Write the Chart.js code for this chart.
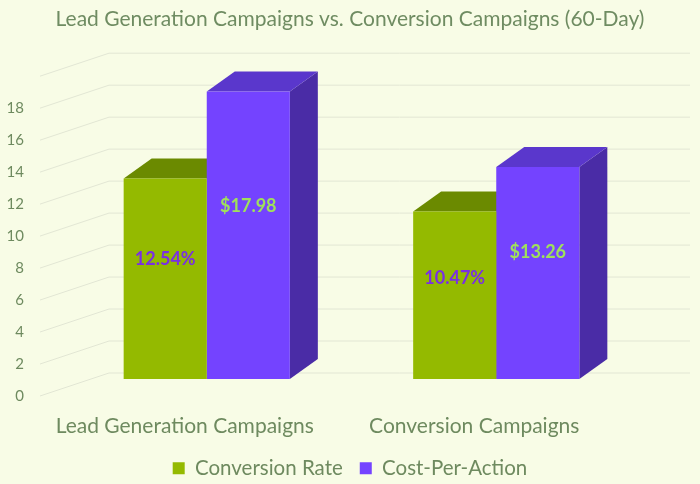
<!DOCTYPE html>
<html>
<head>
<meta charset="utf-8">
<script src="https://cdn.jsdelivr.net/npm/chart.js@4.4.0/dist/chart.umd.min.js"></script>
<style>
  body { margin: 0; background: #f8fce6; }
  #wrap { width: 700px; height: 484px; }
</style>
</head>
<body>
<div id="wrap"><canvas id="myChart"></canvas></div>
<script>
const categories = ["Lead Generation Campaigns", "Conversion Campaigns"];
const conversionRate = [12.54, 10.47];
const costPerAction = [17.98, 13.26];
const yTicks = [0, 2, 4, 6, 8, 10, 12, 14, 16, 18, 20];

const textColor = "#6e8a5f";
const gridColor = "#e2e6d4";
const fontName = "Lato";

// fake 3D: walls, bar tops and sides, value labels
const threeD = {
    id: "threeD",
    beforeDatasetsDraw(chart) {
        const ctx = chart.ctx;
        const y = chart.scales.y;
        const a = chart.chartArea;
        ctx.save();
        ctx.strokeStyle = gridColor;
        ctx.lineWidth = 1;
        y.ticks.forEach(t => {
            const py = y.getPixelForValue(t.value);
            ctx.beginPath();
            ctx.moveTo(a.left - 22, py + 17);
            ctx.lineTo(a.left + 47, py - 6);
            ctx.lineTo(a.right + 49, py - 6);
            ctx.stroke();
        });
        const faces = [
            { top: "#6b8a00", side: "#6f8f00" },
            { top: "#5a37cc", side: "#4a2ca6" }
        ];
        const dx = 28, dy = -20;
        for (let i = 0; i < categories.length; i++) {
            chart.data.datasets.forEach((ds, d) => {
                const bar = chart.getDatasetMeta(d).data[i];
                const x0 = bar.x - bar.width / 2;
                const x1 = bar.x + bar.width / 2;
                ctx.fillStyle = faces[d].side;
                ctx.beginPath();
                ctx.moveTo(x1, bar.y);
                ctx.lineTo(x1 + dx, bar.y + dy);
                ctx.lineTo(x1 + dx, bar.base + dy);
                ctx.lineTo(x1, bar.base);
                ctx.closePath();
                ctx.fill();
                ctx.fillStyle = faces[d].top;
                ctx.beginPath();
                ctx.moveTo(x0, bar.y);
                ctx.lineTo(x0 + dx, bar.y + dy);
                ctx.lineTo(x1 + dx, bar.y + dy);
                ctx.lineTo(x1, bar.y);
                ctx.closePath();
                ctx.fill();
            });
        }
        ctx.restore();
    },
    afterDatasetsDraw(chart) {
        const ctx = chart.ctx;
        const y = chart.scales.y;
        ctx.save();
        ctx.font = "bold 18px " + fontName;
        ctx.textAlign = "center";
        ctx.textBaseline = "middle";
        chart.data.datasets.forEach((ds, d) => {
            chart.getDatasetMeta(d).data.forEach((bar, i) => {
                const v = ds.data[i];
                const txt = d === 0 ? v.toFixed(2) + "%" : "$" + v.toFixed(2);
                ctx.fillStyle = d === 0 ? "#7a2fe4" : "#9fe05c";
                ctx.fillText(txt, bar.x, y.getPixelForValue(v * 0.6));
            });
        });
        ctx.restore();
    }
};

new Chart(document.getElementById("myChart"), {
    type: "bar",
    data: {
        labels: categories,
        datasets: [
            { label: "Conversion Rate", data: conversionRate, backgroundColor: "#94ba00", borderWidth: 0 },
            { label: "Cost-Per-Action", data: costPerAction, backgroundColor: "#7443ff", borderWidth: 0 }
        ]
    },
    options: {
        responsive: true,
        maintainAspectRatio: false,
        animation: false,
        layout: { padding: 0 },
        datasets: { bar: { categoryPercentage: 0.574, barPercentage: 1 } },
        scales: {
            x: {
                grid: { display: false, drawTicks: false },
                border: { display: false },
                ticks: {
                    color: textColor,
                    font: { family: fontName, size: 21 },
                    padding: 35,
                    labelOffset: -22,
                    maxRotation: 0
                },
                afterFit: s => { s.height = 62; }
            },
            y: {
                min: 0,
                max: 20,
                grid: { display: false, drawTicks: false },
                border: { display: false },
                afterBuildTicks: s => { s.ticks = yTicks.map(v => ({ value: v })); },
                ticks: {
                    color: textColor,
                    font: { family: fontName, size: 15 },
                    padding: 38,
                    labelOffset: 17,
                    callback: v => (v === 20 ? "" : v)
                },
                afterFit: s => { s.width = 62; }
            },
            // empty right strip so the title stays centred on the page
            yRight: {
                position: "right",
                grid: { display: false, drawTicks: false },
                border: { display: false },
                ticks: { display: false },
                afterFit: s => { s.width = 59; }
            }
        },
        plugins: {
            title: {
                display: true,
                text: "Lead Generation Campaigns vs. Conversion Campaigns (60-Day)",
                color: "#6f8c62",
                font: { family: fontName, size: 21, weight: "normal" },
                padding: { top: 7, bottom: 27 }
            },
            legend: {
                position: "bottom",
                maxHeight: 43,
                labels: {
                    color: textColor,
                    font: { family: fontName, size: 20.5 },
                    boxWidth: 12,
                    boxHeight: 12,
                    padding: 17
                }
            },
            tooltip: { enabled: false }
        }
    },
    plugins: [threeD]
});
</script>
</body>
</html>
